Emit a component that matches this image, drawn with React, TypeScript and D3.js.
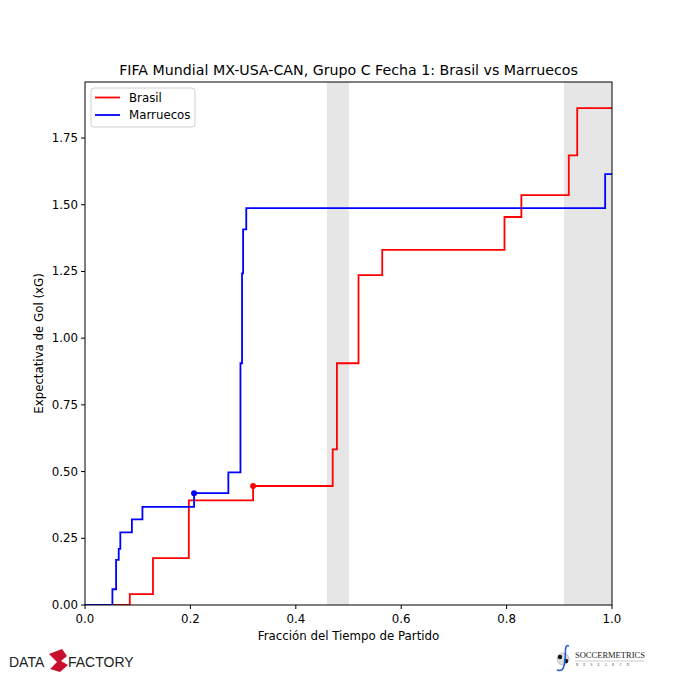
import React from "react";
import * as d3 from "d3";

const brasilT = [0, 0.085, 0.129, 0.197, 0.319, 0.470, 0.478, 0.519, 0.564, 0.796, 0.828, 0.918, 0.934, 1.0];
const brasilXG = [0, 0.041, 0.176, 0.392, 0.446, 0.583, 0.906, 1.236, 1.331, 1.454, 1.536, 1.685, 1.862, 1.862];
const marruecosT = [0, 0.052, 0.059, 0.064, 0.067, 0.089, 0.109, 0.207, 0.272, 0.295, 0.298, 0.300, 0.306, 0.987, 1.0];
const marruecosXG = [0, 0.059, 0.169, 0.210, 0.272, 0.321, 0.368, 0.419, 0.497, 0.906, 1.243, 1.408, 1.487, 1.615, 1.615];
const brasilGoals = [[0.319, 0.446]];
const marruecosGoals = [[0.207, 0.419]];
const halfBands = [[0.459, 0.501], [0.909, 1.0]];
const xTicks = [0, 0.2, 0.4, 0.6, 0.8, 1.0];
const yTicks = [0, 0.25, 0.5, 0.75, 1.0, 1.25, 1.5, 1.75];

const FONT = "DejaVu Sans, sans-serif";

export default function App() {
  const left = 85, right = 612, top = 82, bottom = 605;
  const x = d3.scaleLinear().domain([0, 1]).range([left, right]);
  const y = d3.scaleLinear().domain([0, 1.96]).range([bottom, top]);
  const line = d3.line<number[]>().x(d => x(d[0])).y(d => y(d[1])).curve(d3.curveStepAfter);
  const bData = brasilT.map((t, i) => [t, brasilXG[i]]);
  const mData = marruecosT.map((t, i) => [t, marruecosXG[i]]);

  return (
    <svg width={680} height={680} style={{ position: "absolute", left: 0, top: 0, background: "#fff" }} fontFamily={FONT}>
      <rect x={0} y={0} width={680} height={680} fill="#fff" />
      {halfBands.map((b, i) => (
        <rect key={i} x={x(b[0])} y={top} width={x(b[1]) - x(b[0])} height={bottom - top} fill="#e6e6e6" />
      ))}
      <defs>
        <clipPath id="clip"><rect x={left} y={top} width={right - left} height={bottom - top} /></clipPath>
      </defs>
      <g clipPath="url(#clip)">
        <path d={line(bData) || ""} fill="none" stroke="#ff0000" strokeWidth={1.8} />
        <path d={line(mData) || ""} fill="none" stroke="#0000ff" strokeWidth={1.8} />
      </g>
      {brasilGoals.map((g, i) => <circle key={"b" + i} cx={x(g[0])} cy={y(g[1])} r={3} fill="#ff0000" />)}
      {marruecosGoals.map((g, i) => <circle key={"m" + i} cx={x(g[0])} cy={y(g[1])} r={3} fill="#0000ff" />)}
      <rect x={left} y={top} width={right - left} height={bottom - top} fill="none" stroke="#000" strokeWidth={1} />
      {xTicks.map(t => (
        <g key={"x" + t}>
          <line x1={x(t)} x2={x(t)} y1={bottom} y2={bottom + 4} stroke="#000" />
          <text x={x(t)} y={bottom + 18} textAnchor="middle" fontSize={11.8}>{t.toFixed(1)}</text>
        </g>
      ))}
      {yTicks.map(t => (
        <g key={"y" + t}>
          <line x1={left - 4} x2={left} y1={y(t)} y2={y(t)} stroke="#000" />
          <text x={left - 7} y={y(t) + 4} textAnchor="end" fontSize={11.8}>{t.toFixed(2)}</text>
        </g>
      ))}
      <text x={(left + right) / 2} y={75} textAnchor="middle" fontSize={14.2}>FIFA Mundial MX-USA-CAN, Grupo C Fecha 1: Brasil vs Marruecos</text>
      <text x={(left + right) / 2} y={640} textAnchor="middle" fontSize={11.8}>Fracción del Tiempo de Partido</text>
      <text transform={`translate(43,${(top + bottom) / 2}) rotate(-90)`} textAnchor="middle" fontSize={11.8}>Expectativa de Gol (xG)</text>
      {/* legend */}
      <rect x={91} y={88} width={104} height={39} rx={3} fill="#fff" fillOpacity={0.8} stroke="#d0d0d0" />
      <line x1={95} x2={120} y1={97.5} y2={97.5} stroke="#ff0000" strokeWidth={1.8} />
      <text x={129} y={101.5} fontSize={11.8}>Brasil</text>
      <line x1={95} x2={120} y1={115} y2={115} stroke="#0000ff" strokeWidth={1.8} />
      <text x={129} y={119} fontSize={11.8}>Marruecos</text>
      {/* Data Factory logo */}
      <text x={9} y={667} fontSize={14} fill="#222" fontFamily="Liberation Sans, sans-serif">DATA</text>
      <path d="M49,654 L62,649 L67,656 L61,661 L68,665 L60,672 L50,669 L57,662 Z" fill="#c8102e" />
      <text x={68} y={667} fontSize={14} fill="#222" fontFamily="Liberation Sans, sans-serif">FACTORY</text>
      {/* Soccermetrics logo */}
      <circle cx={563} cy={659} r={6} fill="#ddd" stroke="#999" strokeWidth={0.5} />
      <circle cx={560} cy={657} r={2.2} fill="#111" />
      <circle cx={566} cy={661} r={2.2} fill="#111" />
      <path d="M569,646 C564,644 566,652 565,660 C564,668 563,672 557,670" fill="none" stroke="#1f5fd6" strokeWidth={1.6} />
      <text x={575} y={658} fontSize={8.5} fontFamily="Liberation Serif, serif" fill="#222">SOCCERMETRICS</text>
      <line x1={575} x2={644} y1={661} y2={661} stroke="#999" strokeWidth={0.5} />
      <text x={576} y={666} fontSize={3.5} fontFamily="Liberation Serif, serif" fill="#444" letterSpacing={5}>RESEARCH</text>
    </svg>
  );
}
